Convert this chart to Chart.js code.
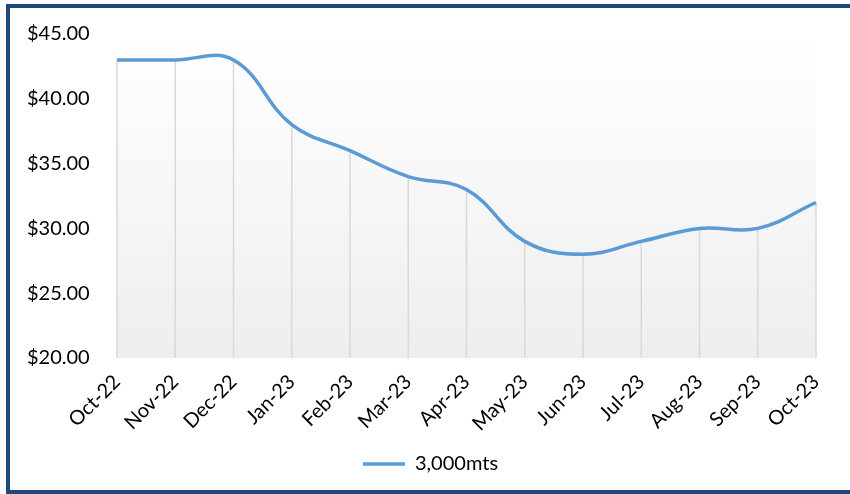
<!DOCTYPE html>
<html>
<head>
<meta charset="utf-8">
<script src="https://cdn.jsdelivr.net/npm/chart.js@4"></script>
<style>
  html, body { margin: 0; padding: 0; background: #fff; }
  #caixa { position: relative; width: 850px; height: 494px; overflow: hidden; }
  #moldura {
    position: absolute; left: 6px; top: 4px; width: 870px; height: 482px;
    border: 4px solid #1F497D; pointer-events: none;
  }
  #graficoPreco { position: absolute; left: 0; top: 0; }
</style>
</head>
<body>
<div id="caixa">
  <canvas id="graficoPreco" width="850" height="494"></canvas>
  <div id="moldura"></div>
</div>
<script>

const meses = ['Oct-22', 'Nov-22', 'Dec-22', 'Jan-23', 'Feb-23', 'Mar-23', 'Apr-23',
  'May-23', 'Jun-23', 'Jul-23', 'Aug-23', 'Sep-23', 'Oct-23']

const precos = [43, 43, 43, 38, 36, 34, 33, 29, 28, 29, 30, 30, 32]

const ticksY = [20, 25, 30, 35, 40, 45]

const legenda = '3,000mts'

const fonte = 'Lato, "Open Sans", sans-serif'

// fundo em degrade so dentro da area do grafico
const fundoGradiente = {
  id: 'fundoGradiente',
  beforeDraw(grafico) {
    let { ctx, chartArea } = grafico
    let grad = ctx.createLinearGradient(0, chartArea.top, 0, chartArea.bottom)
    grad.addColorStop(0, '#ffffff')
    grad.addColorStop(1, '#eeeeee')
    ctx.save()
    ctx.fillStyle = grad
    ctx.fillRect(chartArea.left, chartArea.top, chartArea.right - chartArea.left, chartArea.bottom - chartArea.top)
    ctx.restore()
  }
}

// linhas verticais de cada ponto ate o eixo
const linhasQueda = {
  id: 'linhasQueda',
  beforeDatasetsDraw(grafico) {
    let { ctx, chartArea } = grafico
    let meta = grafico.getDatasetMeta(0)
    ctx.save()
    ctx.strokeStyle = '#d9d9d9'
    ctx.lineWidth = 1.5
    meta.data.forEach((ponto) => {
      ctx.beginPath()
      ctx.moveTo(ponto.x, ponto.y)
      ctx.lineTo(ponto.x, chartArea.bottom)
      ctx.stroke()
    })
    ctx.restore()
  }
}

// empurra a legenda um pouco para a direita
const legendaDeslocada = {
  id: 'legendaDeslocada',
  afterLayout(grafico) {
    grafico.legend.left += 9
    grafico.legend.right += 9
  }
}

const elementoGrafico = document.querySelector('#graficoPreco')

const grafico = new Chart(elementoGrafico, {
  type: 'line',
  data: {
    labels: meses,
    datasets: [{
      label: legenda,
      data: precos,
      borderColor: '#5B9BD5',
      backgroundColor: '#5B9BD5',
      borderWidth: 3.5,
      tension: 0.4,
      pointRadius: 0,
      fill: false
    }]
  },
  options: {
    responsive: false,
    animation: false,
    layout: {
      padding: { top: 0, right: 34, bottom: 10, left: 27 }
    },
    plugins: {
      legend: {
        position: 'bottom',
        labels: {
          usePointStyle: true,
          pointStyle: 'line',
          pointStyleWidth: 42,
          color: '#000',
          font: { family: fonte, size: 20 }
        }
      },
      tooltip: { enabled: false }
    },
    scales: {
      x: {
        offset: false,
        grid: { display: false, drawTicks: false },
        border: { display: false },
        afterFit: (eixo) => {
          eixo.height = 86
        },
        ticks: {
          color: '#000',
          font: { family: fonte, size: 20 },
          maxRotation: 45,
          minRotation: 45,
          padding: 12,
          autoSkip: false
        }
      },
      y: {
        min: ticksY[0],
        max: ticksY[ticksY.length - 1],
        afterBuildTicks: (eixo) => {
          eixo.ticks = ticksY.map((v) => ({ value: v }))
        },
        afterFit: (eixo) => {
          eixo.width = 90
        },
        grid: { display: false, drawTicks: false },
        border: { display: false },
        ticks: {
          color: '#000',
          font: { family: fonte, size: 20 },
          crossAlign: 'far',
          padding: 22,
          callback: (valor) => '$' + valor.toFixed(2)
        }
      }
    }
  },
  plugins: [fundoGradiente, linhasQueda, legendaDeslocada]
})

</script>
</body>
</html>
